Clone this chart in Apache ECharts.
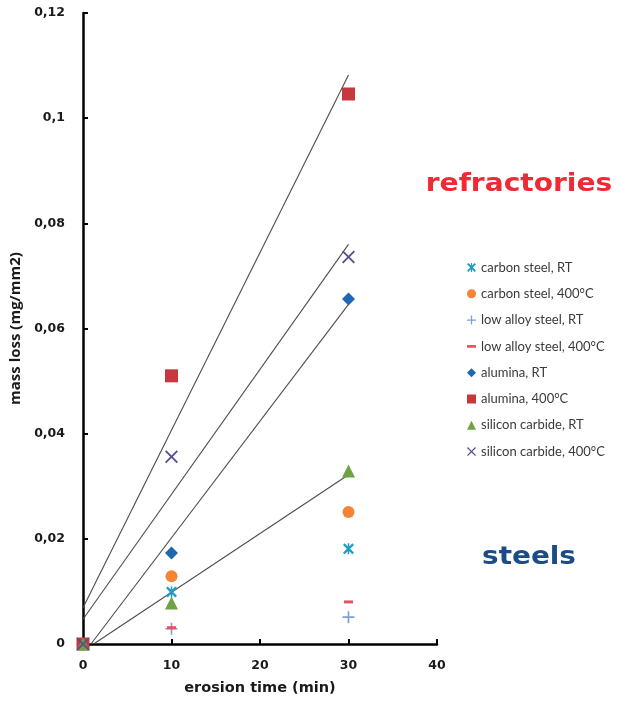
<!DOCTYPE html>
<html>
<head>
<meta charset="utf-8">
<script src="https://cdn.jsdelivr.net/npm/echarts@6/dist/echarts.min.js"></script>
<style>
html,body{margin:0;padding:0;background:#fff;}
#chart{width:619px;height:707px;}
</style>
</head>
<body>
<div id="chart"></div>
<script>
// ---- data ----
const times = [0, 10, 30];
const seriesNames = [
  'carbon steel, RT', 'carbon steel, 400°C',
  'low alloy steel, RT', 'low alloy steel, 400°C',
  'alumina, RT', 'alumina, 400°C',
  'silicon carbide, RT', 'silicon carbide, 400°C'
];
const carbonSteelRT   = [0, 0.0099, 0.0181];
const carbonSteel400  = [0, 0.0129, 0.0251];
const lowAlloyRT      = [0, 0.0029, 0.0051];
const lowAlloy400     = [0, 0.0031, 0.0080];
const aluminaRT       = [0, 0.0173, 0.0656];
const alumina400      = [0, 0.0510, 0.1046];
const siliconCarbRT   = [0, 0.0078, 0.0329];
const siliconCarb400  = [0, 0.0356, 0.0736];

// trendline end points
const trendAlumina400 = [[0, 0.0069], [30, 0.1082]];
const trendSiC400     = [[0, 0.0047], [30, 0.0760]];
const trendAluminaRT  = [[0.9, 0], [30, 0.0646]];
const trendSiCRT      = [[1.2, 0], [30, 0.0322]];

const yTickLabels = ['0', '0,02', '0,04', '0,06', '0,08', '0,1', '0,12'];
const xTickLabels = ['0', '10', '20', '30', '40'];

// ---- styling ----
const SYM_ASTER = 'path://M0,1.5L1.5,0L5,3.5L8.5,0L10,1.5L6.5,5L10,8.5L8.5,10L5,6.5L1.5,10L0,8.5L3.5,5Z M4.3,0H5.7V10H4.3Z';
const SYM_PLUS  = 'path://M4.3,0H5.7V4.3H10V5.7H5.7V10H4.3V5.7H0V4.3H4.3Z';
const SYM_X     = 'path://M0,1L1,0L5,4L9,0L10,1L6,5L10,9L9,10L5,6L1,10L0,9L4,5Z';
const SYM_DASH  = 'path://M0,0H10V3H0Z';

const styles = [
  {vals: carbonSteelRT,  color: '#1f9cc4', symbol: SYM_ASTER, size: 11, icon: SYM_ASTER},
  {vals: carbonSteel400, color: '#f58434', symbol: 'circle',  size: 12, icon: 'circle'},
  {vals: lowAlloyRT,     color: '#7f9fd6', symbol: SYM_PLUS,  size: 12, icon: SYM_PLUS},
  {vals: lowAlloy400,    color: '#e0555f', symbol: 'rect',    size: [9, 3], icon: SYM_DASH},
  {vals: aluminaRT,      color: '#1f67b0', symbol: 'diamond', size: 13, icon: 'diamond'},
  {vals: alumina400,     color: '#c7383e', symbol: 'rect',    size: 13, icon: 'rect'},
  {vals: siliconCarbRT,  color: '#6ea245', symbol: 'triangle',size: 13, icon: 'triangle'},
  {vals: siliconCarb400, color: '#5b4d8c', symbol: SYM_X,     size: 13, icon: SYM_X}
];

const trendLines = [trendAlumina400, trendSiC400, trendAluminaRT, trendSiCRT];

const series = [];
trendLines.forEach((pts, i) => {
  series.push({
    type: 'line', name: 'trend' + i, data: pts, showSymbol: false, silent: true,
    lineStyle: {color: '#4d4d4d', width: 1.1}, z: 1, animation: false
  });
});
styles.forEach((s, i) => {
  series.push({
    type: 'scatter', name: seriesNames[i],
    data: times.map((t, k) => [t, s.vals[k]]),
    symbol: s.symbol, symbolSize: s.size,
    itemStyle: {color: s.color, opacity: 1}, z: 3, animation: false
  });
});

const chart = echarts.init(document.getElementById('chart'), null, {renderer: 'canvas'});
chart.setOption({
  backgroundColor: '#fff',
  animation: false,
  grid: {left: 83, right: 182, top: 13, bottom: 63, containLabel: false},
  xAxis: {
    type: 'value', min: 0, max: 40, interval: 10,
    name: 'erosion time (min)', nameLocation: 'middle', nameGap: 37,
    nameTextStyle: {fontFamily: 'DejaVu Sans', fontWeight: 'bold', fontSize: 14.5, color: '#1a1a1a'},
    axisLine: {lineStyle: {color: '#000', width: 2.5}},
    axisTick: {inside: true, length: 5, lineStyle: {color: '#000', width: 2}},
    axisLabel: {
      margin: 15, fontFamily: 'DejaVu Sans', fontWeight: 'bold', fontSize: 12.5, color: '#1a1a1a',
      formatter: (v, idx) => xTickLabels[idx]
    },
    splitLine: {show: false}
  },
  yAxis: {
    type: 'value', min: 0, max: 0.12, interval: 0.02,
    name: 'mass loss (mg/mm2)', nameLocation: 'middle', nameGap: 51,
    nameTextStyle: {fontFamily: 'Open Sans', fontWeight: 'bold', fontSize: 15, color: '#1a1a1a'},
    axisLine: {lineStyle: {color: '#000', width: 2.5}},
    axisTick: {inside: true, length: 5, lineStyle: {color: '#000', width: 2}},
    axisLabel: {
      margin: 18, fontFamily: 'DejaVu Sans', fontWeight: 'bold', fontSize: 12.5, color: '#1a1a1a',
      formatter: (v, idx) => yTickLabels[idx]
    },
    splitLine: {show: false}
  },
  legend: {
    orient: 'vertical', left: 462, top: 256,
    itemWidth: 9, itemHeight: 9, itemGap: 13.3,
    selectedMode: false,
    textStyle: {fontFamily: 'Lato', fontSize: 13, color: '#3a3a3a'},
    data: seriesNames.map((n, i) => ({name: n, icon: styles[i].icon}))
  },
  graphic: [
    {type: 'text', x: 519, y: 185, scaleX: 1.17,
      style: {text: 'refractories', fill: '#ee2b34', font: 'bold 24px "DejaVu Sans"', textAlign: 'center', textVerticalAlign: 'middle'}},
    {type: 'text', x: 529, y: 558, scaleX: 1.16,
      style: {text: 'steels', fill: '#1b4c85', font: 'bold 24px "DejaVu Sans"', textAlign: 'center', textVerticalAlign: 'middle'}}
  ],
  series: series
});
</script>
</body>
</html>
